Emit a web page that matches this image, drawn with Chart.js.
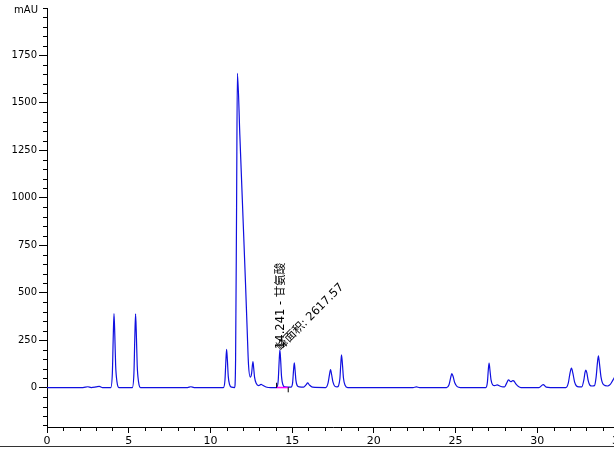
<!DOCTYPE html>
<html>
<head>
<meta charset="utf-8">
<script src="https://cdn.jsdelivr.net/npm/chart.js@4/dist/chart.umd.min.js"></script>
<style>
  html, body { margin: 0; padding: 0; background: #fff; overflow: hidden; }
  #wrap { width: 614px; height: 446px; overflow: hidden; border-bottom: 1px solid #333; }
</style>
</head>
<body>
<div id="wrap"><canvas id="chrom" width="630" height="446"></canvas></div>
<script>
// Chromatogram: retention time (min) / signal (mAU)
const retTime = [
  0, 2.2, 2.5, 2.7, 3.0, 3.2, 3.4,
  3.9, 4.0, 4.05, 4.10, 4.15, 4.20, 4.28, 4.4,
  5.22, 5.32, 5.37, 5.42, 5.47, 5.52, 5.60, 5.72,
  8.6, 8.8, 9.0,
  10.79, 10.89, 10.94, 10.99, 11.04, 11.09, 11.17, 11.3,
  11.48, 11.54, 11.6, 11.65, 11.8, 12.0, 12.15, 12.25, 12.33, 12.44,
  12.52, 12.6, 12.65, 12.7, 12.8, 12.95, 13.1, 13.2, 13.4, 13.7,
  14.05, 14.15, 14.2, 14.25, 14.3, 14.35, 14.43, 14.55,
  14.93, 15.03, 15.08, 15.13, 15.18, 15.23, 15.31, 15.45,
  15.7, 15.85, 15.95, 16.05, 16.25,
  17.05, 17.2, 17.28, 17.35, 17.42, 17.5, 17.62, 17.75,
  17.92, 17.97, 18.02, 18.08, 18.14, 18.24, 18.4,
  22.4, 22.6, 22.8,
  24.45, 24.6, 24.7, 24.77, 24.85, 24.95, 25.1, 25.3,
  26.85, 26.95, 27.0, 27.05, 27.1, 27.17, 27.27, 27.4, 27.55, 27.7, 27.9,
  28.0, 28.12, 28.24, 28.38, 28.5, 28.56, 28.7, 28.85, 29.0,
  30.1, 30.36, 30.55, 30.8,
  31.75, 31.9, 32.0, 32.09, 32.18, 32.28, 32.4, 32.55,
  32.72, 32.85, 32.92, 32.97, 33.03, 33.12, 33.22, 33.35,
  33.5, 33.6, 33.68, 33.74, 33.8, 33.9, 34.05, 34.3,
  34.45, 34.6, 34.7, 34.8
];
const absorbance = [
  0, 0, 4, 0, 3, 6, 0,
  0, 78, 254, 390, 273, 117, 31, 0,
  0, 78, 252, 388, 272, 116, 31, 0,
  0, 4, 0,
  0, 40, 131, 201, 141, 60, 16, 2,
  0, 150, 950, 1655, 1330, 880, 540, 300, 120, 55,
  75, 137, 100, 55, 22, 10, 17, 12, 3, 0,
  0, 40, 129, 198, 139, 59, 16, 3,
  2, 26, 85, 130, 91, 39, 10, 3,
  2, 14, 24, 14, 2,
  0, 25, 65, 94, 66, 28, 6, 3,
  45, 115, 172, 120, 50, 12, 0,
  0, 3, 0,
  0, 15, 52, 73, 58, 25, 5, 0,
  0, 30, 90, 129, 95, 40, 14, 10, 14, 8, 3,
  3, 22, 40, 31, 36, 35, 18, 5, 0,
  0, 15, 2, 0,
  0, 25, 75, 102, 75, 30, 8, 3,
  3, 40, 80, 92, 78, 35, 12, 8,
  10, 55, 130, 167, 130, 55, 15, 8,
  15, 35, 50, 65
];

// integration baseline of the labelled peak
const baseTime = [14.05, 14.76];
const baseValue = [0, 0];
const markTime = [14.05, 14.76];
const markValue = [12, -12];

const xTicks = [0, 5, 10, 15, 20, 25, 30, 35];
const yTicks = [0, 250, 500, 750, 1000, 1250, 1500, 1750];

const peakTime = 14.241;
const peakHeight = 198;
const peakName = '14.241 - 甘氨酸';
const peakArea = '峰面积: 2617.57';

Chart.defaults.font.family = '"DejaVu Sans", "Noto Sans CJK SC", sans-serif';
Chart.defaults.font.size = 10;
Chart.defaults.color = '#000';

// short minor ticks, axis unit and the peak labels
const extras = {
  id: 'extras',
  afterDatasetsDraw(chart) {
    const ctx = chart.ctx;
    const xs = chart.scales.x, ys = chart.scales.y;
    ctx.save();
    ctx.strokeStyle = '#000';
    ctx.lineWidth = 1;
    ctx.beginPath();
    for (let v = -200; v <= 2000; v += 50) {
      if (yTicks.includes(v)) continue;
      const py = Math.round(ys.getPixelForValue(v)) + 0.5;
      ctx.moveTo(xs.left - 4, py);
      ctx.lineTo(xs.left, py);
    }
    for (let v = 1; v < 35; v++) {
      if (xTicks.includes(v)) continue;
      const px = Math.round(xs.getPixelForValue(v)) + 0.5;
      ctx.moveTo(px, ys.bottom);
      ctx.lineTo(px, ys.bottom + 4);
    }
    ctx.stroke();

    ctx.fillStyle = '#000';
    ctx.font = '10px "DejaVu Sans", sans-serif';
    ctx.textAlign = 'right';
    ctx.textBaseline = 'middle';
    ctx.fillText('mAU', 38, 10);

    const px = xs.getPixelForValue(peakTime);
    const py = ys.getPixelForValue(peakHeight);
    ctx.font = '11.5px "DejaVu Sans", "Noto Sans CJK SC", sans-serif';
    ctx.textAlign = 'left';
    ctx.textBaseline = 'alphabetic';
    ctx.save();
    ctx.translate(px + 4, py - 1);
    ctx.rotate(-Math.PI / 2);
    ctx.fillText(peakName, 0, 0);
    ctx.restore();
    ctx.save();
    ctx.translate(px + 1, py + 1);
    ctx.rotate(-Math.PI / 4);
    ctx.fillText(peakArea, 0, 0);
    ctx.restore();
    ctx.restore();
  }
};

new Chart(document.getElementById('chrom'), {
  type: 'line',
  data: {
    datasets: [
      {
        data: retTime.map((t, i) => ({ x: t, y: absorbance[i] })),
        borderColor: '#1010e0',
        borderWidth: 1.2,
        pointRadius: 0,
        cubicInterpolationMode: 'monotone',
        order: 2
      },
      {
        data: baseTime.map((t, i) => ({ x: t, y: baseValue[i] })),
        borderColor: '#ff00ff',
        borderWidth: 1.5,
        pointRadius: 0,
        order: 1
      },
      {
        data: markTime.map((t, i) => ({ x: t, y: markValue[i] })),
        showLine: false,
        pointStyle: 'line',
        rotation: 90,
        pointRadius: 2.5,
        borderColor: '#000',
        borderWidth: 1,
        order: 0
      }
    ]
  },
  options: {
    responsive: false,
    animation: false,
    devicePixelRatio: 1,
    layout: { padding: { top: 3, right: 11, left: 0, bottom: 0 } },
    plugins: { legend: { display: false }, tooltip: { enabled: false } },
    scales: {
      x: {
        type: 'linear',
        min: 0,
        max: 35,
        afterBuildTicks: s => { s.ticks = xTicks.map(v => ({ value: v })); },
        afterFit: s => { s.height = 19; },
        border: { color: '#000', width: 1 },
        grid: { drawOnChartArea: false, tickLength: 6, color: '#000' },
        ticks: {
          padding: 2,
          maxRotation: 0,
          autoSkip: false,
          font: { size: 11 },
          callback: v => String(v)
        }
      },
      y: {
        min: -208,
        max: 2000,
        afterBuildTicks: s => { s.ticks = yTicks.map(v => ({ value: v })); },
        afterFit: s => { s.width = 47; },
        border: { color: '#000', width: 1 },
        grid: { drawOnChartArea: false, tickLength: 8, color: '#000' },
        ticks: {
          padding: 2,
          autoSkip: false,
          font: { size: 10 },
          callback: v => String(v)
        }
      }
    }
  },
  plugins: [extras]
});
</script>
</body>
</html>
